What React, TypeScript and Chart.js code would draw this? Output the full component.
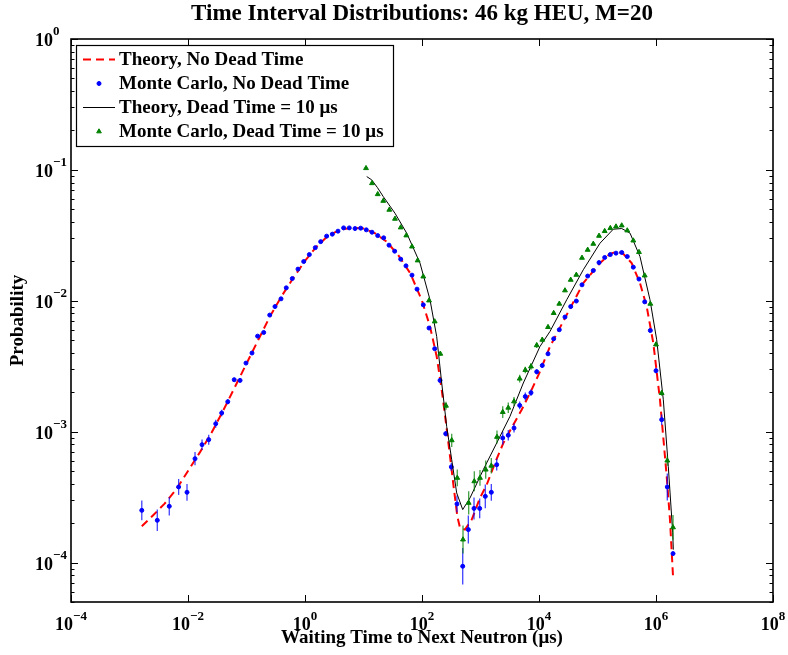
import React, { useEffect, useRef } from "react";
import { Chart, registerables } from "chart.js";
Chart.register(...registerables);

const FONT = '"Liberation Serif", "DejaVu Serif", "Times New Roman", serif';

const titleText = "Time Interval Distributions: 46 kg HEU, M=20";
const xAxisLabel = "Waiting Time to Next Neutron (\u03bcs)";
const yAxisLabel = "Probability";
const seriesLabels = [
  "Theory, No Dead Time",
  "Monte Carlo, No Dead Time",
  "Theory, Dead Time = 10 \u03bcs",
  "Monte Carlo, Dead Time = 10 \u03bcs",
];

// axis limits and tick exponents (powers of ten)
const xLimits = [1e-4, 1e8];
const yLimits = [5e-5, 1];
const xTickExponents = [-4, -2, 0, 2, 4, 6, 8];
const yTickExponents = [0, -1, -2, -3, -4];

// ---- data, stored as log10 values ----
// Monte Carlo, no dead time (blue dots)
const mcNoDeadLogX = [
  -2.79, -2.525, -2.32, -2.16, -2.017, -1.88, -1.76, -1.646, -1.526, -1.424, -1.32, -1.21, -1.11, -1.009,
  -0.906, -0.81, -0.706, -0.603, -0.513, -0.41, -0.32, -0.217, -0.12, -0.022, 0.074, 0.176, 0.268, 0.37,
  0.467, 0.564, 0.66, 0.757, 0.855, 0.952, 1.048, 1.145, 1.243, 1.345, 1.436, 1.533, 1.636, 1.726, 1.829,
  1.915, 2.022, 2.12, 2.217, 2.308, 2.405, 2.501, 2.598, 2.696, 2.792, 2.889, 2.986, 3.082, 3.185, 3.277,
  3.38, 3.475, 3.573, 3.67, 3.766, 3.863, 3.961, 4.056, 4.154, 4.251, 4.347, 4.444, 4.542, 4.638, 4.735,
  4.832, 4.928, 5.026, 5.123, 5.219, 5.316, 5.414, 5.509, 5.612, 5.709, 5.807, 5.903, 6.0, 6.097, 6.193, 6.291,
];
const mcNoDeadLogY = [
  -3.601, -3.677, -3.57, -3.422, -3.463, -3.206, -3.099, -3.061, -2.939, -2.857, -2.771, -2.603, -2.608, -2.476,
  -2.399, -2.27, -2.242, -2.109, -2.044, -1.985, -1.901, -1.83, -1.758, -1.7, -1.647, -1.594, -1.548, -1.506,
  -1.491, -1.468, -1.443, -1.443, -1.448, -1.445, -1.458, -1.476, -1.502, -1.519, -1.575, -1.621, -1.682, -1.733, -1.804,
  -1.911, -2.031, -2.208, -2.366, -2.608, -3.015, -3.269, -3.552, -4.028, -3.748, -3.586, -3.586, -3.494, -3.463, -3.252,
  -3.048, -3.027, -2.972, -2.799, -2.731, -2.702, -2.542, -2.494, -2.405, -2.29, -2.221, -2.124, -2.044, -2.002, -1.878,
  -1.811, -1.769, -1.708, -1.669, -1.647, -1.636, -1.631, -1.662, -1.743, -1.834, -2.008, -2.227, -2.534, -2.908, -3.422, -3.931,
];
// half-length of error bars, in decades
const mcNoDeadErr = [
  0.076, 0.082, 0.07, 0.061, 0.064, 0.05, 0.04, 0.038, 0.03, 0.025, 0.02, 0.015, 0.015, 0.01,
  0.01, 0.01, 0.008, 0.008, 0.006, 0, 0, 0, 0, 0, 0, 0, 0, 0,
  0, 0, 0, 0, 0, 0, 0, 0, 0, 0, 0, 0, 0, 0, 0,
  0, 0, 0, 0.01, 0.015, 0.02, 0.03, 0.064, 0.14, 0.107, 0.084, 0.076, 0.09, 0.064, 0.045,
  0.05, 0.04, 0.035, 0.03, 0.03, 0.025, 0.02, 0.02, 0.015, 0.015, 0.01, 0.01, 0.01, 0.01, 0.008,
  0.008, 0.006, 0, 0, 0, 0, 0, 0, 0, 0.006, 0.01, 0.015, 0.02, 0.04, 0.103,
];

// Monte Carlo, dead time = 10 us (green triangles)
const mcDeadLogX = [
  1.043, 1.145, 1.243, 1.338, 1.441, 1.538, 1.636, 1.732, 1.829, 1.926, 2.022, 2.12, 2.217, 2.313,
  2.41, 2.508, 2.603, 2.701, 2.798, 2.894, 2.991, 3.089, 3.185, 3.282, 3.38, 3.475, 3.573, 3.67,
  3.766, 3.863, 3.961, 4.056, 4.154, 4.251, 4.347, 4.444, 4.542, 4.638, 4.735, 4.832, 4.928, 5.026,
  5.123, 5.219, 5.316, 5.414, 5.509, 5.612, 5.709, 5.807, 5.903, 6.0, 6.097, 6.193, 6.291,
];
const mcDeadLogY = [
  -0.987, -1.102, -1.186, -1.237, -1.305, -1.374, -1.44, -1.501, -1.586, -1.692, -1.815, -1.998, -2.158, -2.405,
  -2.802, -3.066, -3.353, -3.824, -3.544, -3.379, -3.353, -3.29, -3.26, -3.04, -2.85, -2.817, -2.769, -2.595,
  -2.529, -2.502, -2.34, -2.298, -2.201, -2.094, -2.023, -1.921, -1.84, -1.802, -1.672, -1.611, -1.565, -1.504,
  -1.468, -1.445, -1.433, -1.425, -1.463, -1.54, -1.628, -1.807, -2.023, -2.334, -2.705, -3.221, -3.731,
];
const mcDeadErr = [
  0, 0, 0, 0, 0, 0, 0, 0, 0, 0, 0, 0.005, 0.008, 0.015,
  0.03, 0.05, 0.064, 0.107, 0.089, 0.076, 0.06, 0.07, 0.06, 0.05, 0.045, 0.04, 0.035, 0.03,
  0.025, 0.025, 0.02, 0.02, 0.015, 0.012, 0.01, 0.01, 0.008, 0.008, 0.006, 0, 0, 0,
  0, 0, 0, 0, 0, 0, 0, 0.006, 0.01, 0.015, 0.02, 0.04, 0.095,
];

// Theory, no dead time (red dashed)
const theoryNoDeadLogX = [
  -2.79, -2.6, -2.4, -2.2, -2.0, -1.8, -1.6, -1.4, -1.2, -1.0, -0.8, -0.6, -0.4, -0.2, 0.0, 0.2, 0.4, 0.6,
  0.8, 1.0, 1.2, 1.4, 1.6, 1.8, 2.0, 2.137, 2.251, 2.337, 2.41, 2.479, 2.547, 2.604, 2.65, 2.735, 2.85,
  2.991, 3.106, 3.248, 3.39, 3.561, 3.704, 3.875, 4.017, 4.188, 4.474, 4.757, 5.043, 5.214, 5.328, 5.441,
  5.584, 5.726, 5.841, 5.954, 6.068, 6.183, 6.239, 6.291,
];
const theoryNoDeadLogY = [
  -3.723, -3.64, -3.55, -3.44, -3.3, -3.16, -3.01, -2.84, -2.66, -2.48, -2.3, -2.12, -1.965, -1.825, -1.695,
  -1.585, -1.5, -1.458, -1.442, -1.448, -1.485, -1.55, -1.655, -1.79, -2.0, -2.196, -2.425, -2.679, -2.934,
  -3.188, -3.443, -3.647, -3.735, -3.748, -3.672, -3.506, -3.405, -3.239, -3.087, -2.947, -2.832, -2.679,
  -2.54, -2.349, -2.107, -1.865, -1.712, -1.641, -1.624, -1.641, -1.712, -1.865, -2.044, -2.323, -2.756,
  -3.341, -3.672, -4.105,
];

// Theory, dead time = 10 us (black solid)
const theoryDeadLogX = [
  1.055, 1.14, 1.238, 1.338, 1.538, 1.738, 1.966, 2.137, 2.251, 2.337, 2.422, 2.508, 2.593, 2.696, 2.821,
  3.048, 3.277, 3.504, 3.732, 4.017, 4.188, 4.474, 4.757, 5.043, 5.27, 5.414, 5.556, 5.726, 5.897, 6.012,
  6.125, 6.21, 6.286, 6.296,
];
const theoryDeadLogY = [
  -1.051, -1.076, -1.135, -1.204, -1.331, -1.483, -1.712, -1.992, -2.273, -2.628, -2.96, -3.214, -3.468,
  -3.595, -3.506, -3.29, -3.086, -2.883, -2.628, -2.349, -2.234, -1.992, -1.763, -1.56, -1.453, -1.448,
  -1.483, -1.662, -1.992, -2.298, -2.756, -3.265, -3.773, -3.901,
];

const RED = "#ff0000";
const BLUE = "#0000ff";
const BLACK = "#000000";
const GREEN = "#008000";

const toPoints = (lx: number[], ly: number[]) => lx.map((v, i) => ({ x: Math.pow(10, v), y: Math.pow(10, ly[i]) }));

const expText = (e: number) => (e < 0 ? "\u2212" + String(-e) : String(e));

const errorBarPlugin = {
  id: "errorBars",
  beforeDatasetDraw(chart: any, args: any) {
    const ds = chart.data.datasets[args.index];
    const errs: number[] | undefined = ds.errLog;
    if (!errs) return;
    const { ctx, chartArea, scales } = chart;
    ctx.save();
    ctx.beginPath();
    ctx.rect(chartArea.left, chartArea.top, chartArea.right - chartArea.left, chartArea.bottom - chartArea.top);
    ctx.clip();
    ctx.strokeStyle = ds.errColor;
    ctx.lineWidth = 1.3;
    ds.data.forEach((p: any, i: number) => {
      const e = errs[i];
      if (!e) return;
      const px = scales.x.getPixelForValue(p.x);
      const y1 = scales.y.getPixelForValue(p.y * Math.pow(10, e));
      const y2 = scales.y.getPixelForValue(p.y / Math.pow(10, e));
      ctx.beginPath();
      ctx.moveTo(px, y1);
      ctx.lineTo(px, y2);
      ctx.stroke();
    });
    ctx.restore();
  },
};

const frameAndTicksPlugin = {
  id: "frameTicks",
  afterDatasetsDraw(chart: any) {
    const { ctx, chartArea, scales } = chart;
    const { left, right, top, bottom } = chartArea;
    const xs = scales.x;
    const ys = scales.y;
    ctx.save();
    ctx.strokeStyle = "#000";
    ctx.lineWidth = 1;
    const line = (a: number, b: number, c: number, d: number) => {
      ctx.beginPath();
      ctx.moveTo(a, b);
      ctx.lineTo(c, d);
      ctx.stroke();
    };
    // x ticks (inward, bottom and top)
    xTickExponents.forEach((e) => {
      const px = Math.round(xs.getPixelForValue(Math.pow(10, e))) + 0.5;
      line(px, bottom, px, bottom - 7);
      line(px, top, px, top + 7);
    });
    // y ticks: majors and minors
    for (let d = -5; d <= 0; d++) {
      for (let k = 1; k <= 9; k++) {
        const v = k * Math.pow(10, d);
        if (v < yLimits[0] * 0.999 || v > yLimits[1] * 1.001) continue;
        const py = Math.round(ys.getPixelForValue(v)) + 0.5;
        const len = k === 1 ? 7 : 3.5;
        line(left, py, left + len, py);
        line(right, py, right - len, py);
      }
    }
    // box
    ctx.lineWidth = 1.6;
    ctx.strokeRect(left, top, right - left, bottom - top);
    ctx.restore();
  },
  afterDraw(chart: any) {
    const { ctx, chartArea, scales } = chart;
    const { left, bottom } = chartArea;
    const xs = scales.x;
    const ys = scales.y;
    ctx.save();
    ctx.fillStyle = "#000";
    ctx.textBaseline = "alphabetic";
    const baseFont = `bold 18px ${FONT}`;
    const expFont = `bold 13px ${FONT}`;
    // y tick labels
    yTickExponents.forEach((e) => {
      const py = ys.getPixelForValue(Math.pow(10, e));
      ctx.font = baseFont;
      ctx.textAlign = "right";
      ctx.fillText("10", left - 18, py + 7);
      ctx.font = expFont;
      ctx.textAlign = "left";
      ctx.fillText(expText(e), left - 18, py - 4);
    });
    // x tick labels
    xTickExponents.forEach((e) => {
      const px = xs.getPixelForValue(Math.pow(10, e));
      ctx.font = baseFont;
      const w1 = ctx.measureText("10").width;
      ctx.font = expFont;
      const w2 = ctx.measureText(expText(e)).width;
      const start = px - (w1 + w2) / 2;
      ctx.font = baseFont;
      ctx.textAlign = "left";
      ctx.fillText("10", start, bottom + 28);
      ctx.font = expFont;
      ctx.fillText(expText(e), start + w1, bottom + 18);
    });

    // legend
    const bx = 76, by = 45, bw = 317, bh = 101;
    ctx.fillStyle = "#fff";
    ctx.fillRect(bx, by, bw, bh);
    ctx.strokeStyle = "#000";
    ctx.lineWidth = 1.2;
    ctx.strokeRect(bx + 0.5, by + 0.5, bw, bh);
    const rows = [59.5, 83.5, 107.5, 131.5];
    const x1 = 83, x2 = 115, xm = 99;
    chart.data.datasets.forEach((ds: any, i: number) => {
      const yy = rows[i];
      if (ds.showLine) {
        ctx.save();
        ctx.strokeStyle = ds.borderColor;
        ctx.lineWidth = ds.borderWidth;
        ctx.setLineDash(ds.borderDash || []);
        ctx.beginPath();
        ctx.moveTo(x1, yy);
        ctx.lineTo(x2, yy);
        ctx.stroke();
        ctx.restore();
      } else {
        ctx.save();
        ctx.fillStyle = ds.pointBackgroundColor;
        ctx.strokeStyle = ds.pointBorderColor;
        ctx.lineWidth = 1;
        ctx.beginPath();
        if (ds.pointStyle === "triangle") {
          const r = 2.7;
          ctx.moveTo(xm, yy - r);
          ctx.lineTo(xm + r * 0.866, yy + r * 0.5);
          ctx.lineTo(xm - r * 0.866, yy + r * 0.5);
          ctx.closePath();
        } else {
          ctx.arc(xm, yy, 2, 0, Math.PI * 2);
        }
        ctx.fill();
        ctx.stroke();
        ctx.restore();
      }
      ctx.fillStyle = "#000";
      ctx.font = `bold 19px ${FONT}`;
      ctx.textAlign = "left";
      ctx.textBaseline = "middle";
      ctx.fillText(ds.label, 119, yy + 1);
    });
    ctx.restore();
  },
};

export default function App() {
  const ref = useRef<HTMLCanvasElement>(null);
  useEffect(() => {
    const canvas = ref.current;
    if (!canvas) return;
    const chart = new Chart(canvas, {
      type: "scatter",
      data: {
        datasets: [
          {
            label: seriesLabels[0],
            data: toPoints(theoryNoDeadLogX, theoryNoDeadLogY),
            showLine: true,
            borderColor: RED,
            borderWidth: 2,
            borderDash: [8, 5],
            pointRadius: 0,
            tension: 0,
            order: 4,
          },
          {
            label: seriesLabels[1],
            data: toPoints(mcNoDeadLogX, mcNoDeadLogY),
            showLine: false,
            pointStyle: "circle",
            pointRadius: 2,
            pointBorderWidth: 1,
            pointBackgroundColor: BLUE,
            pointBorderColor: BLUE,
            errLog: mcNoDeadErr,
            errColor: "rgba(0,0,255,0.75)",
            order: 3,
          } as any,
          {
            label: seriesLabels[2],
            data: toPoints(theoryDeadLogX, theoryDeadLogY),
            showLine: true,
            borderColor: BLACK,
            borderWidth: 1,
            pointRadius: 0,
            tension: 0,
            order: 2,
          },
          {
            label: seriesLabels[3],
            data: toPoints(mcDeadLogX, mcDeadLogY),
            showLine: false,
            pointStyle: "triangle",
            pointRadius: 2.8,
            pointBorderWidth: 1,
            pointBackgroundColor: GREEN,
            pointBorderColor: GREEN,
            errLog: mcDeadErr,
            errColor: "rgba(0,128,0,0.75)",
            order: 1,
          } as any,
        ],
      },
      options: {
        animation: false,
        responsive: false,
        devicePixelRatio: 1,
        events: [],
        layout: { padding: { left: 0, right: 15, top: 0, bottom: 0 } },
        plugins: {
          legend: { display: false },
          tooltip: { enabled: false },
          title: {
            display: true,
            fullSize: false,
            text: titleText,
            color: "#000",
            font: { family: FONT, size: 23, weight: "bold" },
            padding: { top: 0.4, bottom: 11 },
          },
        },
        scales: {
          x: {
            type: "logarithmic",
            position: "bottom",
            min: xLimits[0],
            max: xLimits[1],
            grid: { display: false },
            border: { display: false },
            ticks: { display: false },
            title: {
              display: true,
              text: xAxisLabel,
              color: "#000",
              font: { family: FONT, size: 19, weight: "bold" },
              padding: { top: 0, bottom: 5.6 },
            },
            afterFit: (s: any) => {
              s.height = 53;
            },
          },
          y: {
            type: "logarithmic",
            position: "left",
            min: yLimits[0],
            max: yLimits[1],
            grid: { display: false },
            border: { display: false },
            ticks: { display: false },
            title: {
              display: true,
              text: yAxisLabel,
              color: "#000",
              font: { family: FONT, size: 19, weight: "bold" },
              padding: { top: 7, bottom: 0 },
            },
            afterFit: (s: any) => {
              s.width = 71;
            },
          },
        },
      } as any,
      plugins: [errorBarPlugin, frameAndTicksPlugin],
    });
    return () => chart.destroy();
  }, []);
  return (
    <div style={{ position: "absolute", left: 0, top: 0, width: 788, height: 655, background: "#fff" }}>
      <canvas ref={ref} width={788} height={655} style={{ width: 788, height: 655, display: "block" }} />
    </div>
  );
}
